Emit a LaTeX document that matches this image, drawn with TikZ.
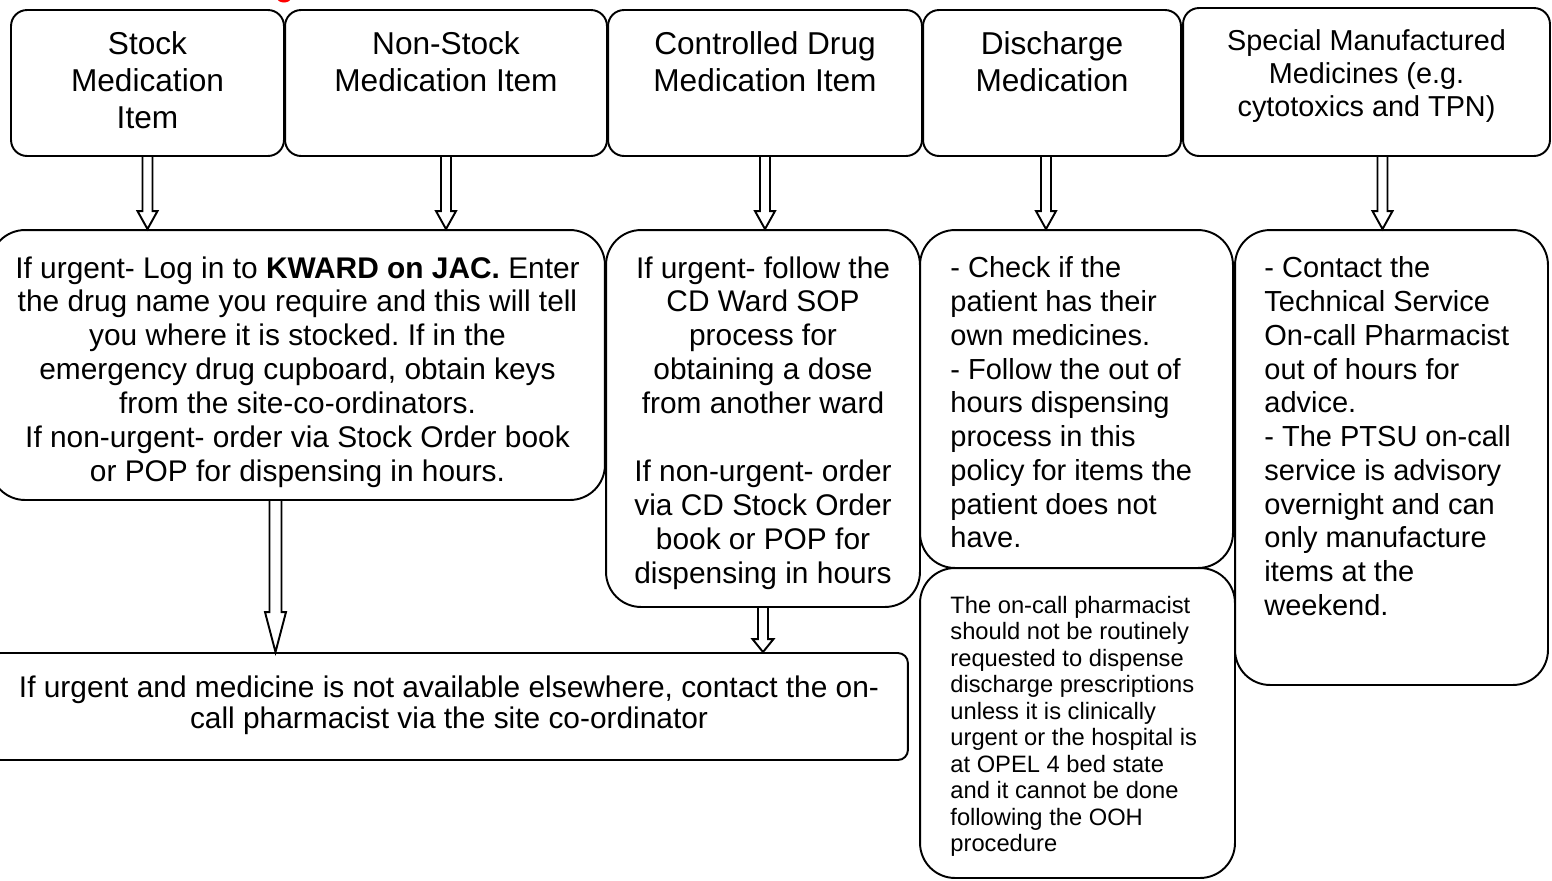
\documentclass[tikz,border=0pt]{standalone}
\usepackage{fontspec}
\setmainfont{Liberation Sans}
\usetikzlibrary{positioning, calc}
\frenchspacing

% hollow block arrow: start, end, half shaft, half head, head length
\newcommand{\hollowarrow}[5]{%
  \draw[harrow] let \p1=(#1), \p2=(#2) in
    (\x1-#3,\y1) -- (\x1-#3,\y2+#5) -- (\x1-#4,\y2+#5) -- (\x1,\y2)
    -- (\x1+#4,\y2+#5) -- (\x1+#3,\y2+#5) -- (\x1+#3,\y1);}

\begin{document}
\begin{tikzpicture}[x=0.02cm, y=-0.02cm,
    box/.style={draw, line width=1.1pt, rounded corners=#1, inner sep=0pt},
    box/.default=0.7cm,
    head/.style={font=\fontsize{18}{21}\selectfont, align=center, inner sep=0pt},
    body/.style={font=\fontsize{17}{19.3}\selectfont, align=center, inner sep=0pt},
    note/.style={font=\fontsize{13.5}{15.1}\selectfont, align=left, inner sep=0pt},
    harrow/.style={line width=1.1pt, line join=miter},
]
    \useasboundingbox (0,0) rectangle (1552,880);

    % cut-off heading mark
    \fill[red] (284,-2) ellipse [x radius=0.14cm, y radius=0.09cm];

    % Item types
    \node[box=0.32cm, minimum width=5.46cm, minimum height=2.92cm] (stock) at (147.5,83) {};
    \node[box=0.32cm, minimum width=6.44cm, minimum height=2.92cm] (nonstock) at (446,83) {};
    \node[box=0.32cm, minimum width=6.28cm, minimum height=2.92cm] (cdrug) at (765,83) {};
    \node[box=0.32cm, minimum width=5.16cm, minimum height=2.92cm] (dischg) at (1052,83) {};
    \node[box=0.32cm, minimum width=7.34cm, minimum height=2.96cm] (special) at (1366.5,82) {};

    \node[head, below=0.45cm of stock.north] (stocktxt) {Stock\\Medication\\Item};
    \node[head, below=0.45cm of nonstock.north] (nonstocktxt) {Non-Stock\\Medication Item};
    \node[head, below=0.45cm of cdrug.north] (cdrugtxt) {Controlled Drug\\Medication Item};
    \node[head, below=0.45cm of dischg.north] (dischgtxt) {Discharge\\Medication};
    \node[head, font=\fontsize{16.4}{18.7}\selectfont, below=0.45cm of special.north] (specialtxt)
        {Special Manufactured\\Medicines (e.g.\\cytotoxics and TPN)};

    % What to do
    \node[box, minimum width=12.3cm, minimum height=5.4cm] (kward) at (297.5,365) {};
    \node[box, minimum width=6.28cm, minimum height=7.54cm] (cdward) at (763,418.5) {};
    \node[box, minimum width=6.26cm, minimum height=6.76cm] (ownmeds) at (1076.5,399) {};
    \node[box, minimum width=6.26cm, minimum height=9.1cm] (ptsu) at (1391.5,457.5) {};
    \node[box, minimum width=6.3cm, minimum height=6.2cm] (oncall) at (1077.5,723) {};
    \node[box=0.2cm, minimum width=18.36cm, minimum height=2.14cm] (ooh) at (449,706.5) {};

    \node[body, below=0.54cm of kward.north] (kwardtxt)
        {If urgent- Log in to \textbf{KWARD on JAC.} Enter\\
         the drug name you require and this will tell\\
         you where it is stocked. If in the\\
         emergency drug cupboard, obtain keys\\
         from the site-co-ordinators.\\
         If non-urgent- order via Stock Order book\\
         or POP for dispensing in hours.};
    \node[body, below=0.54cm of cdward.north] (cdwardtxt)
        {If urgent- follow the\\CD Ward SOP\\process for\\obtaining a dose\\from another ward\\[19.3pt]
         If non-urgent- order\\via CD Stock Order\\book or POP for\\dispensing in hours};
    \node[body, font=\fontsize{16.5}{19.2}\selectfont, align=left,
          below right=0.55cm and 0.62cm of ownmeds.north west] (ownmedstxt)
        {- Check if the\\patient has their\\own medicines.\\- Follow the out of\\hours dispensing\\
         process in this\\policy for items the\\patient does not\\have.};
    \node[body, font=\fontsize{16.5}{19.2}\selectfont, align=left,
          below right=0.55cm and 0.6cm of ptsu.north west] (ptsutxt)
        {- Contact the\\Technical Service\\On-call Pharmacist\\out of hours for\\advice.\\
         - The PTSU on-call\\service is advisory\\overnight and can\\only manufacture\\items at the\\weekend.};
    \node[note, below right=0.57cm and 0.62cm of oncall.north west] (oncalltxt)
        {The on-call pharmacist\\should not be routinely\\requested to dispense\\discharge prescriptions\\
         unless it is clinically\\urgent or the hospital is\\at OPEL 4 bed state\\and it cannot be done\\
         following the OOH\\procedure};
    \node[body, font=\fontsize{17}{18}\selectfont, below=0.46cm of ooh.north] (oohtxt)
        {If urgent and medicine is not available elsewhere, contact the on-\\
         call pharmacist via the site co-ordinator};

    % Arrows
    \coordinate (dischgout) at ($(dischg.south)+(-6,0)$);
    \coordinate (specialout) at ($(special.south)+(16,0)$);
    \coordinate (kwardout) at ($(kward.south)+(-22,0)$);
    \hollowarrow{stock.south}{kward.north}{0.1cm}{0.2cm}{0.36cm}
    \hollowarrow{nonstock.south}{kward.north}{0.1cm}{0.2cm}{0.36cm}
    \hollowarrow{cdrug.south}{cdward.north}{0.1cm}{0.2cm}{0.36cm}
    \hollowarrow{dischgout}{ownmeds.north}{0.1cm}{0.2cm}{0.36cm}
    \hollowarrow{specialout}{ptsu.north}{0.1cm}{0.2cm}{0.36cm}
    \hollowarrow{kwardout}{ooh.north}{0.12cm}{0.21cm}{0.8cm}
    \hollowarrow{cdward.south}{ooh.north}{0.1cm}{0.21cm}{0.26cm}
\end{tikzpicture}
\end{document}
